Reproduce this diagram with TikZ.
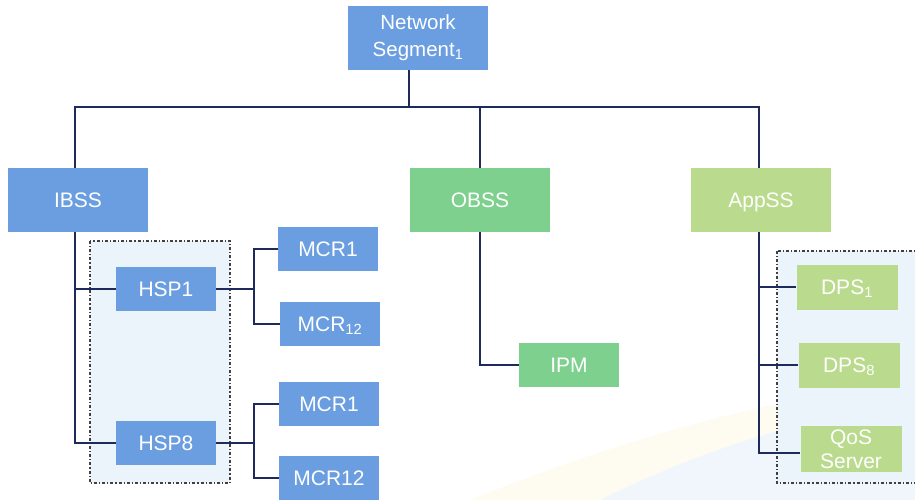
\documentclass[tikz,border=0pt]{standalone}
\usepackage{fontspec}
\setmainfont{Liberation Sans}
\definecolor{boxblue}{RGB}{106,158,224}
\definecolor{boxgreen}{RGB}{125,208,142}
\definecolor{boxlime}{RGB}{186,219,141}
\definecolor{wire}{RGB}{30,42,92}
\definecolor{groupfill}{RGB}{236,244,251}
\definecolor{hazeblue}{RGB}{240,246,252}
\definecolor{hazeyellow}{RGB}{254,252,241}
\tikzset{
  card/.style={rectangle, inner sep=0pt, text=white, align=center},
  oneline/.style={text height=15pt, text depth=0pt},
  bigcard/.style={card, minimum width=140pt, minimum height=64pt, font=\fontsize{21}{23}\selectfont},
  smallcard/.style={card, minimum width=100pt, minimum height=44pt, font=\fontsize{21}{22}\selectfont},
  link/.style={draw=wire, line width=2pt},
  groupbox/.style={draw=black!75, fill=groupfill, line width=1.2pt, dash dot},
}
\begin{document}
\begin{tikzpicture}[x=1pt, y=-1pt]
  \useasboundingbox (0,0) rectangle (915,500);
  \fill[white] (0,0) rectangle (915,500);
  % soft swoosh in the lower right corner
  \fill[hazeyellow] (470,500) .. controls (620,440) and (760,400) .. (915,380) -- (915,500) -- cycle;
  \fill[hazeblue] (600,500) .. controls (700,450) and (800,420) .. (915,400) -- (915,500) -- cycle;

  % dashed groups
  \path[groupbox] (90,241) rectangle (230,483);
  \path[groupbox] (777,251) rectangle (920,483);

  % nodes
  \node[bigcard, fill=boxblue, font=\fontsize{20.5}{27}\selectfont] (net) at (418,38) {Network\\Segment\textsubscript{1}};
  \node[bigcard, oneline, fill=boxblue] (ibss) at (78,200) {IBSS};
  \node[bigcard, oneline, fill=boxgreen] (obss) at (480,200) {OBSS};
  \node[bigcard, oneline, fill=boxlime] (appss) at (761,200) {AppSS};

  \node[smallcard, oneline, fill=boxblue] (hsp1) at (166,289) {HSP1};
  \node[smallcard, oneline, fill=boxblue] (hsp8) at (166,443) {HSP8};
  \node[smallcard, oneline, fill=boxblue] (mcra) at (328,249) {MCR1};
  \node[smallcard, oneline, fill=boxblue] (mcrb) at (330,324) {MCR\textsubscript{12}};
  \node[smallcard, oneline, fill=boxblue] (mcrc) at (329,404) {MCR1};
  \node[smallcard, oneline, fill=boxblue] (mcrd) at (329,478) {MCR12};

  \node[smallcard, oneline, fill=boxgreen] (ipm) at (569,365) {IPM};

  \node[smallcard, oneline, fill=boxlime, minimum width=101pt, minimum height=45pt] (dps1) at (847,287) {DPS\textsubscript{1}};
  \node[smallcard, oneline, fill=boxlime, minimum width=101pt, minimum height=45pt] (dps8) at (849,365) {DPS\textsubscript{8}};
  \node[smallcard, fill=boxlime, minimum width=101pt, minimum height=46pt, font=\fontsize{21}{24}\selectfont] (qos) at (851,449) {QoS\\Server};

  % top-level bus
  \coordinate (bus) at (409,107);
  \draw[link] ([xshift=-9pt]net.south) -- (bus);
  \draw[link] ([xshift=-3pt]ibss.north) |- (bus) -| ([xshift=-2pt]appss.north);
  \draw[link] (obss.north) -- (obss.north |- bus);

  % IBSS branch
  \draw[link] ([xshift=-3pt]ibss.south) |- (hsp1.west);
  \draw[link] ([xshift=-3pt]ibss.south) |- (hsp8.west);
  \coordinate (fa) at (254,289);
  \coordinate (fb) at (254,443);
  \draw[link] (hsp1.east) -- (fa);
  \draw[link] (mcra.west) -| (fa) |- (mcrb.west);
  \draw[link] (hsp8.east) -- (fb);
  \draw[link] (mcrc.west) -| (fb) |- (mcrd.west);

  % OBSS branch
  \draw[link] (obss.south) |- (ipm.west);

  % AppSS branch
  \draw[link] ([xshift=-2pt]appss.south) |- (dps1.west);
  \draw[link] ([xshift=-2pt]appss.south) |- (dps8.west);
  \draw[link] ([xshift=-2pt]appss.south) |- ([yshift=-4pt]qos.west);
\end{tikzpicture}
\end{document}
